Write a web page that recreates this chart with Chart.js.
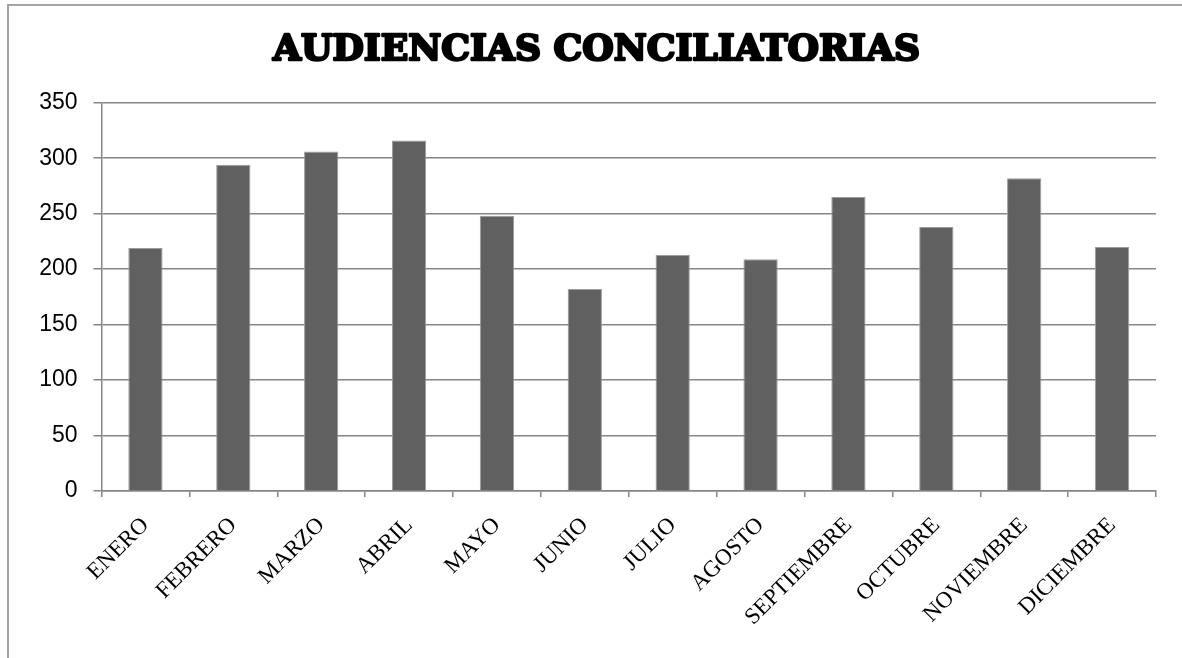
<!DOCTYPE html>
<html>
<head>
<meta charset="utf-8">
<script src="https://cdn.jsdelivr.net/npm/chart.js@4/dist/chart.umd.min.js"></script>
<style>
  html, body { margin: 0; padding: 0; background: #fff; }
  #marco {
    position: absolute; left: 7px; top: 4px;
    width: 1175px; height: 654px;
    border-left: 2px solid #a3a3a3; border-top: 2px solid #a3a3a3;
  }
  #grafico { display: block; }
</style>
</head>
<body>
<div id="marco"><canvas id="grafico" width="1173" height="652"></canvas></div>
<script>
  // Audiencias conciliatorias por mes
  const titulo = "AUDIENCIAS CONCILIATORIAS";
  const meses = ["ENERO", "FEBRERO", "MARZO", "ABRIL", "MAYO", "JUNIO", "JULIO", "AGOSTO", "SEPTIEMBRE", "OCTUBRE", "NOVIEMBRE", "DICIEMBRE"];
  const audiencias = [219, 294, 306, 316, 248, 182, 213, 209, 265, 238, 282, 220];
  const ticksY = [0, 50, 100, 150, 200, 250, 300, 350];

  const gris = "#868686";

  // titulo ancho y pesado, como en el original
  const tituloPlugin = {
    id: 'tituloAncho',
    afterDraw(chart) {
      const c = chart.ctx;
      c.save();
      c.font = "bold 36px 'DejaVu Serif', serif";
      const w = c.measureText(titulo).width;
      c.translate(587.5, 54);
      c.scale(647 / w, 1);
      c.textAlign = 'center';
      c.textBaseline = 'alphabetic';
      c.fillStyle = "#000";
      c.strokeStyle = "#000";
      c.lineWidth = 2.5;
      c.lineJoin = 'round';
      c.strokeText(titulo, 0, 0);
      c.fillText(titulo, 0, 0);
      c.restore();
    }
  };

  const ctx = document.getElementById("grafico").getContext("2d");
  new Chart(ctx, {
    type: 'bar',
    data: {
      labels: meses,
      datasets: [{
        label: "Audiencias",
        data: audiencias,
        backgroundColor: "#606060",
        borderColor: "#9c9c9c",
        borderWidth: 1,
        categoryPercentage: 1,
        barPercentage: 0.39
      }]
    },
    options: {
      responsive: false,
      animation: false,
      layout: {
        padding: { left: 0, right: 26, top: 96.7, bottom: 0 }
      },
      scales: {
        x: {
          offset: true,
          grid: {
            offset: true,
            drawOnChartArea: false,
            drawTicks: true,
            tickLength: 6,
            color: gris,
            lineWidth: 1.5
          },
          border: { color: gris, width: 1.5 },
          ticks: {
            color: "#000",
            minRotation: 45,
            maxRotation: 45,
            padding: 15,
            font: { family: "'Liberation Serif', serif", size: 23 }
          },
          afterFit: function(scale) { scale.height = 167; }
        },
        y: {
          min: 0,
          max: 350,
          afterBuildTicks: function(scale) {
            scale.ticks = ticksY.map(v => ({ value: v }));
          },
          grid: { color: gris, lineWidth: 1.5, tickLength: 8 },
          border: { color: gris, width: 1.5 },
          ticks: {
            color: "#000",
            padding: 16,
            font: { family: "'Liberation Sans', sans-serif", size: 23 }
          },
          afterFit: function(scale) { scale.width = 92.5; }
        }
      },
      plugins: {
        legend: { display: false },
        tooltip: { enabled: false },
        title: { display: false }
      }
    },
    plugins: [tituloPlugin]
  });
</script>
</body>
</html>
